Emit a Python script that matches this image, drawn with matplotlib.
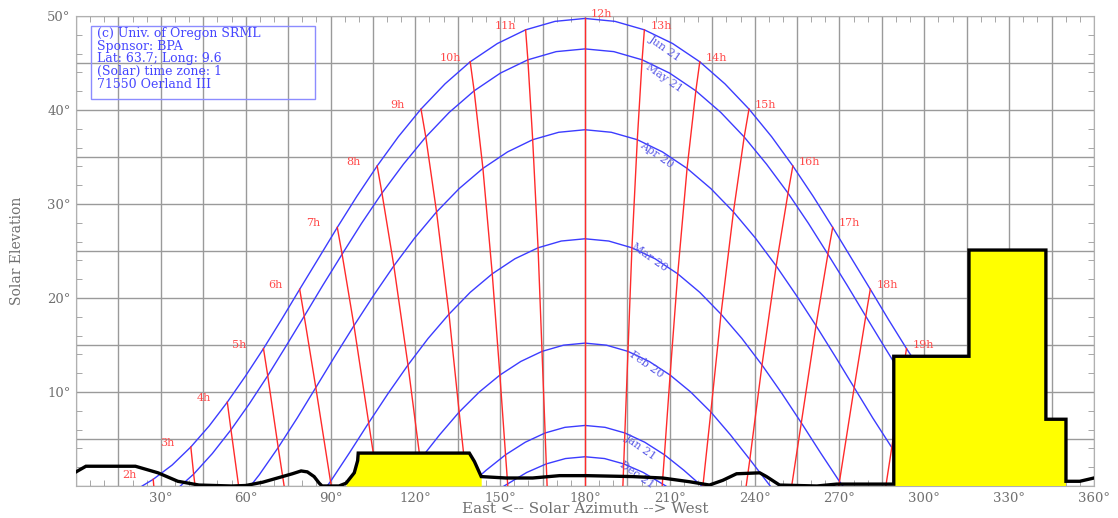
import numpy as np
import matplotlib.pyplot as plt
from matplotlib.ticker import MultipleLocator, FuncFormatter
from matplotlib.patches import Rectangle

plt.rcParams['font.family'] = ['DejaVu Serif']

# sun path curves (azimuth, elevation)
jun_az = [23.4, 27.3, 34.0, 40.6, 47.1, 53.5, 59.9, 66.3, 72.7, 79.1, 85.7, 92.4, 99.3, 106.5, 114.0, 122.0,
          130.5, 139.4, 149.0, 159.0, 169.4, 180.0, 190.6, 201.0, 211.0, 220.6, 229.5, 238.0, 246.0, 253.5,
          260.7, 267.6, 274.3, 280.9, 287.3, 293.7, 300.1, 306.5, 312.9, 319.4, 326.0, 332.7, 336.6]
jun_el = [0.0, 0.71, 2.23, 4.15, 6.39, 8.92, 11.68, 14.62, 17.72, 20.93, 24.19, 27.51, 30.81, 34.05, 37.16, 40.10,
          42.78, 45.13, 47.07, 48.53, 49.43, 49.74, 49.43, 48.53, 47.07, 45.13, 42.78, 40.10, 37.16, 34.05,
          30.81, 27.51, 24.19, 20.93, 17.72, 14.62, 11.68, 8.92, 6.39, 4.15, 2.23, 0.71, 0.0]

may_az = [36.9, 41.6, 48.2, 54.8, 61.3, 67.8, 74.2, 80.7, 87.3, 94.1, 101.0, 108.2, 115.8, 123.7, 132.0, 140.8,
          150.1, 159.8, 169.8, 180.0, 190.2, 200.2, 209.9, 219.2, 228.0, 236.3, 244.2, 251.8, 259.0, 265.9,
          272.7, 279.3, 285.8, 292.2, 298.7, 305.2, 311.8, 318.4, 323.1]
may_el = [0.0, 1.26, 3.45, 5.98, 8.75, 11.73, 14.85, 18.06, 21.36, 24.66, 27.95, 31.16, 34.24, 37.13, 39.75, 42.04,
          43.93, 45.34, 46.21, 46.50, 46.21, 45.34, 43.93, 42.04, 39.75, 37.13, 34.24, 31.16, 27.95, 24.66,
          21.36, 18.06, 14.85, 11.73, 8.75, 5.98, 3.45, 1.26, 0.0]

apr_az = [61.7, 64.8, 71.5, 78.2, 84.8, 91.5, 98.3, 105.3, 112.4, 119.8, 127.5, 135.5, 143.9, 152.6, 161.5, 170.7,
          180.0, 189.3, 198.5, 207.4, 216.1, 224.5, 232.5, 240.2, 247.6, 254.7, 261.7, 268.5, 275.2, 281.8,
          288.5, 295.2, 298.3]
apr_el = [0.0, 1.19, 4.09, 7.22, 10.47, 13.78, 17.06, 20.30, 23.42, 26.40, 29.16, 31.64, 33.79, 35.54, 36.84, 37.63,
          37.90, 37.63, 36.84, 35.54, 33.79, 31.64, 29.16, 26.40, 23.42, 20.30, 17.06, 13.78, 10.47, 7.22,
          4.09, 1.19, 0.0]

mar_az = [88.8, 90.0, 96.7, 103.5, 110.4, 117.4, 124.5, 131.9, 139.4, 147.2, 155.2, 163.4, 171.6,
          180.0, 188.4, 196.6, 204.8, 212.8, 220.6, 228.1, 235.5, 242.6, 249.6, 256.5, 263.3, 270.0, 271.2]
mar_el = [0.0, 0.48, 3.53, 6.72, 9.86, 12.87, 15.69, 18.28, 20.60, 22.57, 24.17, 25.34, 26.06,
          26.30, 26.06, 25.34, 24.17, 22.57, 20.60, 18.28, 15.69, 12.87, 9.86, 6.72, 3.53, 0.48, 0.0]

feb_az = [114.5, 121.7, 128.6, 135.5, 142.7, 149.9, 157.3, 164.8, 172.4, 180.0,
          187.6, 195.2, 202.7, 210.1, 217.3, 224.5, 231.4, 238.3, 245.5]
feb_el = [0.0, 2.82, 5.45, 7.87, 10.02, 11.80, 13.25, 14.32, 14.98, 15.20,
          14.98, 14.32, 13.25, 11.80, 10.02, 7.87, 5.45, 2.82, 0.0]

jan_az = [138.7, 145.1, 151.9, 158.9, 165.9, 172.9, 180.0, 187.1, 194.1, 201.1, 208.1, 214.9, 221.3]
jan_el = [0.0, 1.69, 3.32, 4.66, 5.64, 6.24, 6.44, 6.24, 5.64, 4.66, 3.32, 1.69, 0.0]

dec_az = [151.4, 159.4, 166.3, 173.1, 180.0, 186.9, 193.7, 200.6, 208.6]
dec_el = [0.0, 1.44, 2.35, 2.92, 3.11, 2.92, 2.35, 1.44, 0.0]

date_labels = ['Jun 21', 'May 21', 'Apr 20', 'Mar 20', 'Feb 20', 'Jan 21', 'Dec 21']
date_label_az = [208.1, 207.8, 205.3, 202.8, 201.8, 199.6, 198.2]
date_label_el = [46.5, 43.4, 35.2, 24.3, 12.9, 4.1, 1.2]

# hour lines, from the Jun 21 curve down to the horizon
hours = [2, 3, 4, 5, 6, 7, 8, 9, 10, 11, 12, 13, 14, 15, 16, 17, 18, 19, 20, 21, 22]
hour_az = [
    [27.3, 27.5],
    [40.6, 41.6, 42.1],
    [53.5, 54.8, 57.5],
    [66.3, 67.8, 71.5, 73.6],
    [79.1, 80.7, 84.8, 90.0, 90.3],
    [92.4, 94.1, 98.3, 103.5, 106.9],
    [106.5, 108.2, 112.4, 117.4, 121.7, 123.0],
    [122.0, 123.7, 127.5, 131.9, 135.5, 138.3],
    [139.4, 140.8, 143.9, 147.2, 149.9, 151.9, 152.7],
    [159.0, 159.8, 161.5, 163.4, 164.8, 165.9, 166.3, 166.6],
    [180.0, 180.0],
    [201.0, 200.2, 198.5, 196.6, 195.2, 194.1, 193.7, 193.4],
    [220.6, 219.2, 216.1, 212.8, 210.1, 208.1, 207.3],
    [238.0, 236.3, 232.5, 228.1, 224.5, 221.7],
    [253.5, 251.8, 247.6, 242.6, 238.3, 237.0],
    [267.6, 265.9, 261.7, 256.5, 253.1],
    [280.9, 279.3, 275.2, 270.0, 269.7],
    [293.7, 292.2, 288.5, 286.4],
    [306.5, 305.2, 302.5],
    [319.4, 318.4, 317.9],
    [332.7, 332.5],
]
hour_el = [
    [0.71, 0.0],
    [4.15, 1.26, 0.0],
    [8.92, 5.98, 0.0],
    [14.62, 11.73, 4.09, 0.0],
    [20.93, 18.06, 10.47, 0.48, 0.0],
    [27.51, 24.66, 17.06, 6.72, 0.0],
    [34.05, 31.16, 23.42, 12.87, 2.82, 0.0],
    [40.10, 37.13, 29.16, 18.28, 7.87, 0.0],
    [45.13, 42.04, 33.79, 22.57, 11.80, 3.32, 0.0],
    [48.53, 45.34, 36.84, 25.34, 14.32, 5.64, 2.35, 0.0],
    [49.74, 0.0],
    [48.53, 45.34, 36.84, 25.34, 14.32, 5.64, 2.35, 0.0],
    [45.13, 42.04, 33.79, 22.57, 11.80, 3.32, 0.0],
    [40.10, 37.13, 29.16, 18.28, 7.87, 0.0],
    [34.05, 31.16, 23.42, 12.87, 2.82, 0.0],
    [27.51, 24.66, 17.06, 6.72, 0.0],
    [20.93, 18.06, 10.47, 0.48, 0.0],
    [14.62, 11.73, 4.09, 0.0],
    [8.92, 5.98, 0.0],
    [4.15, 1.26, 0.0],
    [0.71, 0.0],
]

# horizon profile (obstructions)
horizon_az = [0.0, 3.5, 21.0, 29.0, 36.0, 43.5, 55.0, 60.0, 66.0, 73.0, 76.5, 79.6, 81.8, 84.2, 86.0, 87.0,
              93.0, 95.5, 98.4, 99.6, 99.8, 139.1, 140.9, 143.3, 152.0, 161.5, 171.0, 180.5, 196.8, 207.4,
              217.0, 224.0, 228.7, 233.6, 241.8, 244.2, 248.8, 262.0, 269.0, 286.7, 289.2, 289.2, 315.8,
              315.8, 343.0, 343.0, 350.1, 350.1, 355.0, 360.0]
horizon_el = [1.5, 2.1, 2.1, 1.4, 0.5, 0.1, 0.0, 0.05, 0.4, 1.0, 1.3, 1.6, 1.5, 1.0, 0.3, 0.0,
              0.0, 0.3, 1.4, 2.7, 3.5, 3.5, 2.6, 1.0, 0.85, 0.85, 1.1, 1.1, 1.0, 0.85,
              0.45, 0.1, 0.6, 1.3, 1.4, 1.0, 0.1, 0.0, 0.2, 0.2, 0.2, 13.8, 13.8,
              25.1, 25.1, 7.1, 7.1, 0.5, 0.5, 0.85]

info_text = ("(c) Univ. of Oregon SRML\nSponsor: BPA\nLat: 63.7; Long: 9.6\n"
             "(Solar) time zone: 1\n71550 Oerland III")

fig = plt.figure(figsize=(11.18, 5.18), dpi=100)
ax = fig.add_axes([0.068, 0.0618, 0.9105, 0.9073])
ax.set_xlim(0, 360)
ax.set_ylim(0, 50)

blue = '#3c3cff'
red = '#ff2b2b'

curves = [(jun_az, jun_el), (may_az, may_el), (apr_az, apr_el), (mar_az, mar_el),
          (feb_az, feb_el), (jan_az, jan_el), (dec_az, dec_el)]
for (az, el) in curves:
    ax.plot(az, el, color=blue, lw=1.0, zorder=3)

for lab, x, y in zip(date_labels, date_label_az, date_label_el):
    ax.text(x, y, lab, color='#5a5ae6', fontsize=8, rotation=-35,
            ha='center', va='center', zorder=3)

for h, az, el in zip(hours, hour_az, hour_el):
    ax.plot(az, el, color=red, lw=1.0, zorder=3)
    if h < 12:
        ax.annotate(f'{h}h', (az[0], el[0]), xytext=(-31, 4), textcoords='offset pixels',
                    color='#ff4a4a', fontsize=8, ha='left', va='center', zorder=3)
    else:
        ax.annotate(f'{h}h', (az[0], el[0]), xytext=(6, 4), textcoords='offset pixels',
                    color='#ff4a4a', fontsize=8, ha='left', va='center', zorder=3)

h_az = np.array(horizon_az)
h_el = np.array(horizon_el)
ax.fill_between(h_az, h_el, 0, where=(h_az >= 95.5) & (h_az <= 143.3),
                color='#ffff00', lw=0, zorder=5)
ax.fill_between(h_az, h_el, 0, where=(h_az >= 289.2) & (h_az <= 350.1),
                color='#ffff00', lw=0, zorder=5)
ax.plot(h_az, h_el, color='black', lw=2.4, zorder=6, solid_joinstyle='miter')

# info box
ax.add_patch(Rectangle((0.0147, 0.8234), 0.2201, 0.1553, transform=ax.transAxes,
                       fill=False, edgecolor='#8c8cff', lw=1.0, zorder=7))
ax.text(0.0206, 0.9760, info_text, transform=ax.transAxes, color='#4646ff',
        fontsize=9, linespacing=0.96, ha='left', va='top', zorder=7)

ax.xaxis.set_major_locator(MultipleLocator(15))
ax.xaxis.set_minor_locator(MultipleLocator(5))
ax.yaxis.set_major_locator(MultipleLocator(5))
ax.yaxis.set_minor_locator(MultipleLocator(2))
ax.xaxis.set_major_formatter(FuncFormatter(lambda v, p: f'{v:.0f}°' if v > 0 and v % 30 == 0 else ''))
ax.yaxis.set_major_formatter(FuncFormatter(lambda v, p: f'{v:.0f}°' if v > 0 and v % 10 == 0 else ''))
ax.grid(which='major', color='#9a9a9a', lw=1.0, zorder=1)
ax.set_axisbelow(True)
ax.tick_params(which='both', direction='in', top=True, right=True, colors='#999999',
               labelcolor='#707070', labelsize=9.5)
ax.tick_params(which='major', length=0, pad=4)
ax.tick_params(which='minor', length=4)
for s in ax.spines.values():
    s.set_color('#b0b0b0')

ax.set_xlabel('East <-- Solar Azimuth --> West', color='#707070', fontsize=11)
ax.set_ylabel('Solar Elevation', color='#707070', fontsize=10)
ax.xaxis.set_label_coords(0.5, -0.035)
ax.yaxis.set_label_coords(-0.051, 0.5)

fig.savefig('out.png', dpi=100)
